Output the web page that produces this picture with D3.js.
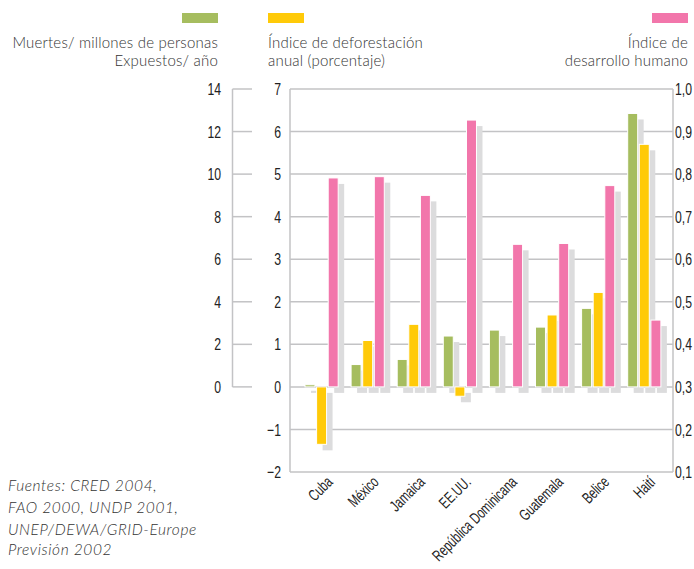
<!DOCTYPE html>
<html><head><meta charset="utf-8">
<script src="https://cdn.jsdelivr.net/npm/d3@7"></script>
<style>
html,body{margin:0;padding:0;background:#fff;}
svg{display:block;}
.tick{font-family:"Liberation Sans","Arial",sans-serif;font-size:17px;fill:#222;}
.xl{font-family:"Liberation Sans","Arial",sans-serif;font-size:16px;fill:#222;}
.leg{font-family:Lato,"Open Sans",sans-serif;font-size:15px;fill:#333;font-weight:300;letter-spacing:0.2px;}
.src{font-family:Lato,"Open Sans",sans-serif;font-size:15.5px;fill:#333;font-style:italic;font-weight:300;letter-spacing:0.6px;}
</style></head>
<body>
<svg id="c" width="694" height="569"></svg>
<script>
// ---- data ----
const countries = ["Cuba","México","Jamaica","EE.UU.","República Dominicana","Guatemala","Belice","Haití"];
const muertes = [0.1, 1.05, 1.29, 2.39, 2.67, 2.81, 3.69, 12.85];      // left axis 0–14
const deforestacion = [-1.35, 1.09, 1.47, -0.22, 0, 1.69, 2.22, 5.70]; // middle axis -2–7
const idh = [0.791, 0.794, 0.750, 0.927, 0.635, 0.637, 0.773, 0.457];  // right axis 0.1–1.0
const leftTicks = [0,2,4,6,8,10,12,14];
const midTicks = [-2,-1,0,1,2,3,4,5,6,7];
const rightTicks = [0.1,0.2,0.3,0.4,0.5,0.6,0.7,0.8,0.9,1.0];
const colors = ["#a6bd5f","#ffca08","#f276ab"];

// ---- layout ----
const svg = d3.select("#c");
const X0 = 290, X1 = 673, Y0 = 89, Y1 = 472;
const yMid = d3.scaleLinear().domain([-2,7]).range([Y1,Y0]);
const yLeft = d3.scaleLinear().domain([0,14]).range([yMid(0), yMid(7)]);
const yRight = d3.scaleLinear().domain([0.1,1.0]).range([Y1,Y0]);
const x0 = d3.scaleBand().domain(countries).range([X0,X1]).paddingInner(0.28).paddingOuter(0.294).align(0.553);
const x1 = d3.scaleBand().domain([0,1,2]).range([0,x0.bandwidth()]).paddingInner(0.14);
const grid = "#c3c3c5";
const SQ = 0.72; // horizontal squeeze for condensed labels

// gridlines
svg.append("g").selectAll("line").data(midTicks).join("line")
  .attr("x1",X0).attr("x2",X1).attr("y1",d=>yMid(d)).attr("y2",d=>yMid(d))
  .attr("stroke",grid).attr("stroke-width",1.5);
svg.append("line").attr("x1",X0).attr("x2",X0).attr("y1",Y0).attr("y2",Y1).attr("stroke",grid).attr("stroke-width",1.5);
svg.append("line").attr("x1",X1).attr("x2",X1).attr("y1",Y0).attr("y2",Y1).attr("stroke",grid).attr("stroke-width",1.5);

// left bracket axis
const LX = 232.5;
svg.append("line").attr("x1",LX).attr("x2",LX).attr("y1",yLeft(0)).attr("y2",yLeft(14)).attr("stroke",grid).attr("stroke-width",1.5);
svg.append("g").selectAll("line").data(leftTicks).join("line")
  .attr("x1",LX).attr("x2",252).attr("y1",d=>yLeft(d)).attr("y2",d=>yLeft(d))
  .attr("stroke",grid).attr("stroke-width",1.5);
svg.append("g").selectAll("text").data(leftTicks).join("text").attr("class","tick")
  .attr("transform",d=>`translate(221,${yLeft(d)}) scale(${SQ},1)`).attr("dy","0.36em").attr("text-anchor","end").text(d=>d);
svg.append("g").selectAll("text").data(midTicks).join("text").attr("class","tick")
  .attr("transform",d=>`translate(281,${yMid(d)}) scale(${SQ},1)`).attr("dy","0.36em").attr("text-anchor","end")
  .text(d=>d<0?"\u2212"+Math.abs(d):d);
svg.append("g").selectAll("text").data(rightTicks).join("text").attr("class","tick")
  .attr("transform",d=>`translate(675,${yRight(d)}) scale(${SQ},1)`).attr("dy","0.36em").attr("text-anchor","start")
  .text(d=>d3.format(".1f")(d).replace(".",","));

// bars data
const bars = [];
countries.forEach((c,i)=>{
  bars.push({c, s:0, y:yLeft(muertes[i]), b:yMid(0)});
  bars.push({c, s:1, y:yMid(deforestacion[i]), b:yMid(0)});
  bars.push({c, s:2, y:yRight(idh[i]), b:yRight(0.3)});
});
const bx = d=>x0(d.c)+x1(d.s);
const barTop = d=>Math.min(d.y,d.b), barH = d=>Math.abs(d.y-d.b);
const SDX = 6, SDY = 6;
const drawn = bars.filter(d=>barH(d)>0.01);
svg.append("g").selectAll("rect").data(drawn).join("rect")
  .attr("x",d=>bx(d)+SDX).attr("y",d=>barTop(d)+SDY).attr("width",x1.bandwidth()).attr("height",barH)
  .attr("fill","#dcdcdd");
svg.append("g").selectAll("rect").data(drawn).join("rect")
  .attr("x",bx).attr("y",barTop).attr("width",x1.bandwidth()).attr("height",barH)
  .attr("fill",d=>colors[d.s]).attr("stroke","#fff").attr("stroke-width",1);

// x labels
svg.append("g").selectAll("text").data(countries).join("text").attr("class","xl")
  .attr("text-anchor","end")
  .attr("transform",d=>`translate(${x0(d)+x0.bandwidth()/2+12},${Y1+11}) rotate(-45) scale(0.7,1)`)
  .text(d=>d);

// legend
const sw = [[182,218],[268,304],[652,688]];
svg.append("g").selectAll("rect").data(colors).join("rect")
  .attr("x",(d,i)=>sw[i][0]).attr("y",13).attr("width",(d,i)=>sw[i][1]-sw[i][0]).attr("height",10).attr("fill",d=>d);
const legLines = [
  [{t:"Muertes/ millones de personas",x:218,a:"end"},{t:"Expuestos/ año",x:218,a:"end"}],
  [{t:"Índice de deforestación",x:268,a:"start"},{t:"anual (porcentaje)",x:268,a:"start"}],
  [{t:"Índice de",x:688,a:"end"},{t:"desarrollo humano",x:688,a:"end"}]
];
legLines.forEach(ls=>ls.forEach((l,j)=>{
  svg.append("text").attr("class","leg").attr("x",l.x).attr("y",47.5+j*18.4).attr("text-anchor",l.a).text(l.t);
}));

// source
const src = ["Fuentes: CRED 2004,","FAO 2000, UNDP 2001,","UNEP/DEWA/GRID-Europe","Previsión 2002"];
const srcY = [490.5,513,535,555];
svg.append("g").selectAll("text").data(src).join("text").attr("class","src")
  .attr("x",8).attr("y",(d,i)=>srcY[i]).text(d=>d);
</script>
</body></html>
